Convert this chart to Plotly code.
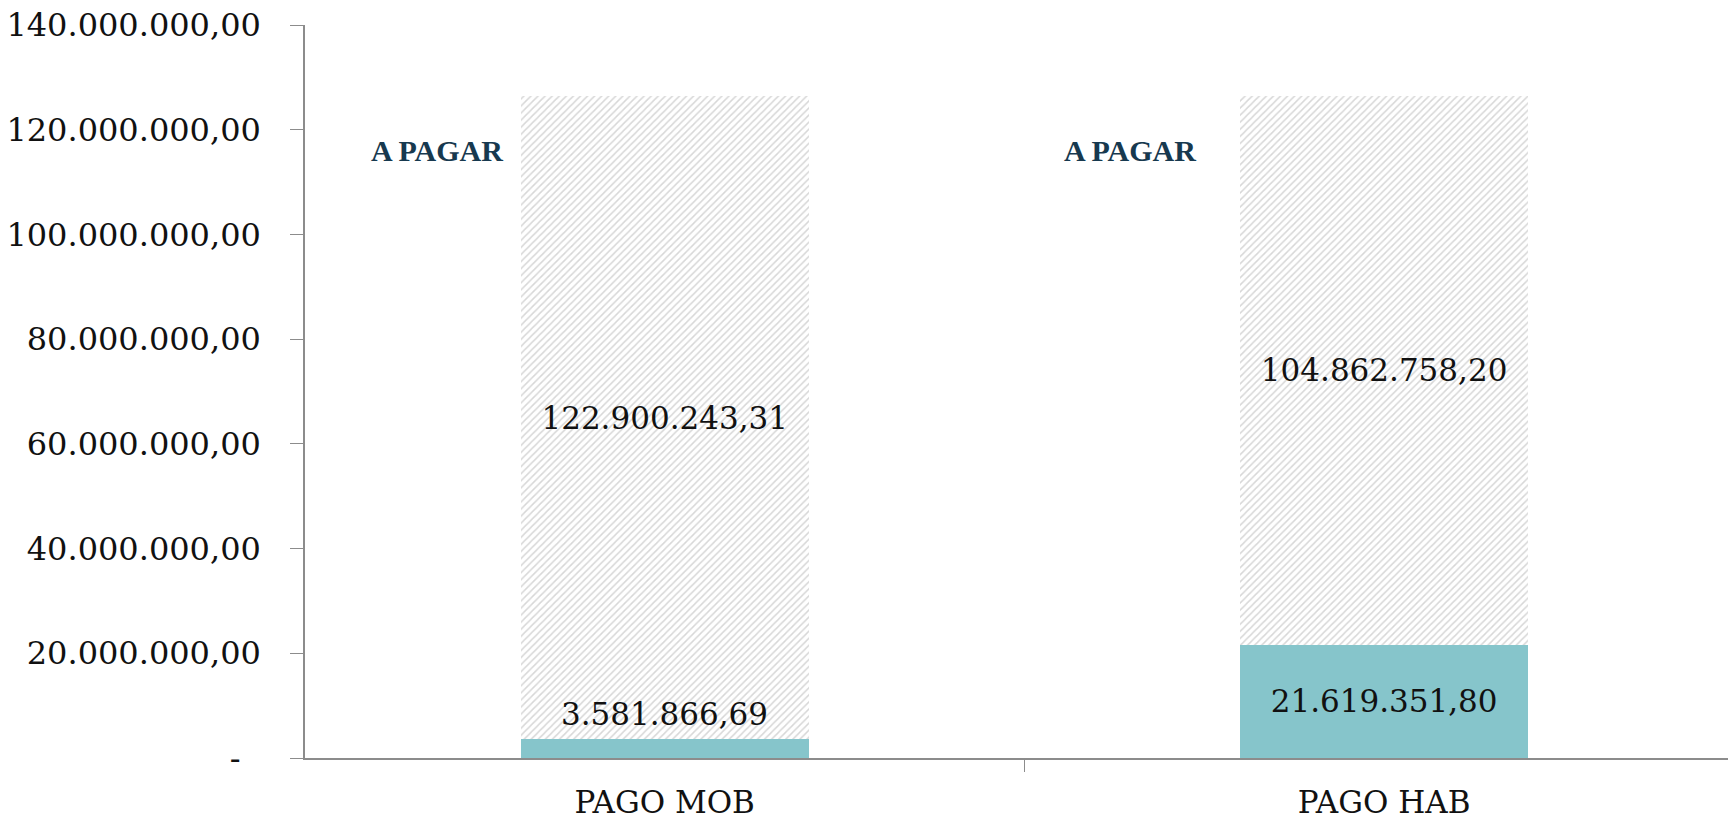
import plotly.graph_objects as go

categories = ["PAGO MOB", "PAGO HAB"]
pago_values = [3581866.69, 21619351.80]
a_pagar_values = [122900243.31, 104862758.20]
series_label = "A PAGAR"
y_tick_values = [0, 20e6, 40e6, 60e6, 80e6, 100e6, 120e6, 140e6]
y_tick_text = ["-\u00a0\u00a0", "20.000.000,00", "40.000.000,00", "60.000.000,00",
               "80.000.000,00", "100.000.000,00", "120.000.000,00", "140.000.000,00"]


def fmt(v):
    s = f"{v:,.2f}"
    return s.replace(",", "X").replace(".", ",").replace("X", ".")


FONT = "DejaVu Serif"
x_pos = list(range(len(categories)))

fig = go.Figure()
fig.add_trace(go.Bar(
    x=x_pos, y=pago_values, name="PAGO",
    marker=dict(color="#86C5CB", line=dict(width=0)),
    text=[fmt(v) for v in pago_values],
    textposition=["none", "inside"],
    insidetextanchor="middle",
    textfont=dict(family=FONT, size=31, color="#111111"),
    width=0.4,
))
fig.add_trace(go.Bar(
    x=x_pos, y=a_pagar_values, name=series_label,
    marker=dict(color="white", line=dict(width=0),
                pattern=dict(shape="/", fgcolor="#b0b0b0", bgcolor="white",
                             size=5, solidity=0.3)),
    text=[fmt(v) for v in a_pagar_values],
    textposition="inside",
    insidetextanchor="middle",
    textfont=dict(family=FONT, size=31, color="#111111"),
    width=0.4,
))

# small paid value label above the thin bar
fig.add_annotation(x=x_pos[0], y=pago_values[0], text=fmt(pago_values[0]),
                   showarrow=False, yanchor="middle", yshift=25,
                   font=dict(family=FONT, size=31, color="#111111"))

# series labels
for xi, dx in zip(x_pos, [-0.317, -0.353]):
    fig.add_annotation(x=xi + dx, y=116e6, text=f"<b>{series_label}</b>",
                       showarrow=False, xanchor="center", yanchor="middle",
                       font=dict(family="Liberation Serif", size=30, color="#17394F"))

fig.update_layout(
    width=1728, height=820,
    margin=dict(l=305, r=0, t=25, b=62),
    barmode="stack",
    showlegend=False,
    plot_bgcolor="white", paper_bgcolor="white",
)
fig.update_xaxes(
    range=[-0.5, 1.478],
    tickvals=x_pos, ticktext=categories,
    showline=True, linecolor="#8c8c8c", linewidth=1.5,
    showgrid=False, zeroline=False,
    ticks="", tickfont=dict(family=FONT, size=31, color="#111111"),
    ticklabelstandoff=16, automargin=False,
)
# category boundary tick marks
fig.update_xaxes(minor=dict(tickvals=[0.5], ticks="outside", ticklen=12,
                            tickcolor="#8c8c8c", tickwidth=1))
fig.update_yaxes(
    range=[0, 140e6],
    tickvals=y_tick_values, ticktext=y_tick_text,
    showline=True, linecolor="#8c8c8c", linewidth=1.5,
    showgrid=False, zeroline=False,
    ticks="outside", ticklen=13, tickcolor="#8c8c8c", tickwidth=1,
    tickfont=dict(family=FONT, size=32, color="#111111"),
    ticklabelstandoff=23, automargin=False,
)

fig.write_html("out.html", config={"displayModeBar": False},
               post_script="document.body.style.margin='0';")
